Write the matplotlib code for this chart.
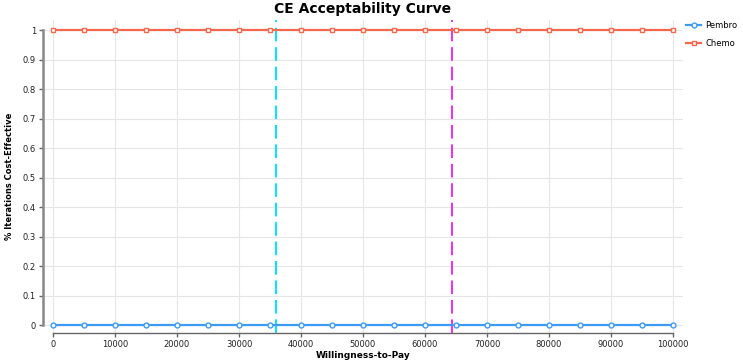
import matplotlib.pyplot as plt

wtp = [0, 5000, 10000, 15000, 20000, 25000, 30000, 35000, 40000, 45000, 50000,
       55000, 60000, 65000, 70000, 75000, 80000, 85000, 90000, 95000, 100000]
pembro = [0] * 21
chemo = [1] * 21
icer_lines = [36000, 64300]
icer_colors = ['#00e5f5', '#f02cf0']
x_ticks = [0, 10000, 20000, 30000, 40000, 50000, 60000, 70000, 80000, 90000, 100000]
y_ticks = [0, 0.1, 0.2, 0.3, 0.4, 0.5, 0.6, 0.7, 0.8, 0.9, 1]
y_labels = ['0', '0.1', '0.2', '0.3', '0.4', '0.5', '0.6', '0.7', '0.8', '0.9', '1']

fig = plt.figure(figsize=(7.43, 3.61), dpi=100)
ax = fig.add_axes([43 / 743, 28 / 361, 640 / 743, 313 / 361])

for x, c in zip(icer_lines, icer_colors):
    ax.axvline(x, color=c, lw=1.4, dashes=(7, 3), zorder=2)

ax.plot(wtp, pembro, color='#3d9bf5', lw=1.6, marker='o', ms=3.5,
        mfc='white', mew=1.0, label='Pembro', zorder=3)
ax.plot(wtp, chemo, color='#f4694e', lw=1.6, marker='s', ms=3.2,
        mfc='white', mew=1.0, label='Chemo', zorder=3)

ax.set_xlim(-1613, 101613)
ax.set_ylim(-0.027, 1.034)
ax.set_xticks(x_ticks)
ax.set_yticks(y_ticks)
ax.set_yticklabels(y_labels)
ax.tick_params(labelsize=6, length=3, width=1, pad=2,
               colors='#666666', labelcolor='#222222')
ax.grid(True, color='#e6e6e6', lw=0.8, zorder=0)

for s in ['top', 'right']:
    ax.spines[s].set_visible(False)
ax.spines['left'].set_bounds(0, 1)
ax.spines['bottom'].set_bounds(0, 100000)
ax.spines['left'].set_color('#888888')
ax.spines['bottom'].set_color('#666666')
ax.spines['left'].set_linewidth(1.8)
ax.spines['bottom'].set_linewidth(1.0)

ax.set_title('CE Acceptability Curve', fontsize=10, fontweight='bold', pad=5)
ax.set_xlabel('Willingness-to-Pay', fontsize=6.5, fontweight='bold', labelpad=1.5)
ax.set_ylabel('% Iterations Cost-Effective', fontsize=6, fontweight='bold', labelpad=6)

ax.legend(loc='upper left', bbox_to_anchor=(686 / 743, 1 - 21 / 361),
          bbox_transform=fig.transFigure, frameon=False, fontsize=6,
          handlelength=1.8, handletextpad=0.5, labelspacing=1.1,
          borderpad=0, borderaxespad=0)

fig.savefig('out.png', dpi=100)
